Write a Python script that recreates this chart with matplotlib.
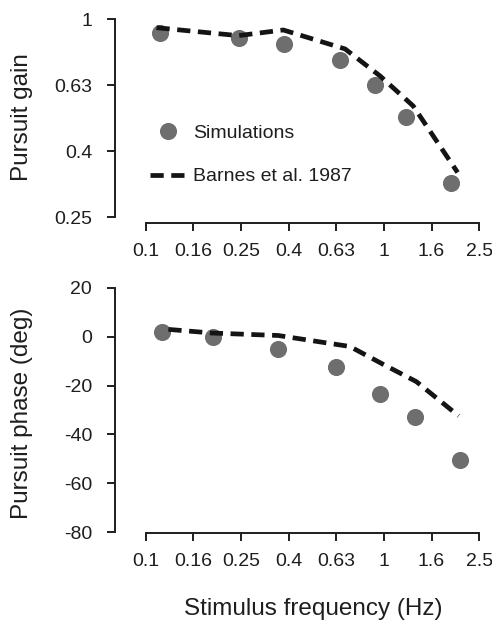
import matplotlib
matplotlib.use("Agg")
import matplotlib.pyplot as plt
from matplotlib.lines import Line2D

plt.rcParams['font.family'] = ['Liberation Sans', 'DejaVu Sans']

# Frequencies (Hz) and responses
sim_gain_freq = [0.115, 0.246, 0.380, 0.656, 0.918, 1.24, 1.91]
sim_gain = [0.907, 0.876, 0.841, 0.752, 0.632, 0.506, 0.319]

barnes_gain_freq = [0.111, 0.245, 0.378, 0.687, 0.964, 1.327, 2.04]
barnes_gain = [0.943, 0.892, 0.928, 0.813, 0.673, 0.546, 0.343]

sim_phase_freq = [0.117, 0.191, 0.36, 0.630, 0.964, 1.356, 2.09]
sim_phase = [1.8, 0.0, -5.0, -12.5, -23.3, -32.7, -50.6]

barnes_phase_freq = [0.1245, 0.19, 0.36, 0.72, 0.98, 1.37, 2.06]
barnes_phase = [3.0, 1.5, 0.5, -4.0, -11.0, -18.4, -32.4]

# Axis ticks (log-spaced at 0.2 decades) and their labels
freq_ticks = [10 ** (-1 + 0.2 * k) for k in range(8)]
freq_labels = ['0.1', '0.16', '0.25', '0.4', '0.63', '1', '1.6', '2.5']
gain_ticks = [10 ** (-0.2 * k) for k in range(4)]
gain_labels = ['1', '0.63', '0.4', '0.25']
phase_ticks = [20, 0, -20, -40, -60, -80]
phase_labels = ['20', '0', '-20', '-40', '-60', '-80']

W, H = 492, 620
fig = plt.figure(figsize=(W / 100, H / 100), dpi=100)

def px_axes(left, right, top, bottom):
    return fig.add_axes([left / W, 1 - bottom / H, (right - left) / W, (bottom - top) / H])

ax1 = px_axes(115, 490, 10, 223)
ax2 = px_axes(115, 490, 280, 533)

text_col = '#1e1e1e'
dot_col = '#6e6e6e'
line_col = '#141414'
tick_fs = 14
label_fs = 17.5

def style(ax):
    for s in ('top', 'right'):
        ax.spines[s].set_visible(False)
    for s in ('left', 'bottom'):
        ax.spines[s].set_linewidth(1.4)
        ax.spines[s].set_color(text_col)
    ax.tick_params(axis='both', direction='out', length=5.5, width=1.4,
                   colors=text_col, labelsize=tick_fs)
    ax.tick_params(axis='x', pad=9)
    ax.tick_params(axis='y', pad=11)
    ax.set_xscale('log')
    ax.set_xlim(0.0743, 2.79)
    ax.set_xticks(freq_ticks)
    ax.set_xticklabels(freq_labels)
    ax.minorticks_off()
    ax.spines['bottom'].set_bounds(freq_ticks[0], freq_ticks[-1])

dash = dict(color=line_col, lw=3.4, dashes=(2.8, 1.6), dash_capstyle='butt', zorder=3)
dot = dict(ls='none', marker='o', ms=11.3, mfc=dot_col, mec=dot_col, zorder=2)

# Gain panel
style(ax1)
ax1.set_yscale('log')
ax1.set_ylim(0.241, 1.067)
ax1.set_yticks(gain_ticks)
ax1.set_yticklabels(gain_labels)
ax1.minorticks_off()
ax1.spines['left'].set_bounds(gain_ticks[-1], gain_ticks[0])
ax1.plot(sim_gain_freq, sim_gain, **dot)
ax1.plot(barnes_gain_freq, barnes_gain, **dash)

handles = [Line2D([], [], **dot), Line2D([], [], **dash)]
leg = ax1.legend(handles, ['Simulations', 'Barnes et al. 1987'], loc='upper left',
                 bbox_to_anchor=((150 - 115) / 375, 1 - (124 - 10) / 213),
                 frameon=False, fontsize=14, handlelength=1.8, handletextpad=0.4,
                 labelspacing=1.35, borderpad=0, borderaxespad=0)
for t in leg.get_texts():
    t.set_color(text_col)

# Phase panel
style(ax2)
ax2.set_ylim(-80.3, 23.2)
ax2.set_yticks(phase_ticks)
ax2.set_yticklabels(phase_labels)
ax2.spines['left'].set_bounds(-80, 20)
ax2.plot(sim_phase_freq, sim_phase, **dot)
ax2.plot(barnes_phase_freq, barnes_phase, **dash)

fig.text(22 / W, 1 - 117.5 / H, 'Pursuit gain', rotation=90, ha='center', va='center',
         fontsize=label_fs, color=text_col)
fig.text(22 / W, 1 - 413 / H, 'Pursuit phase (deg)', rotation=90, ha='center', va='center',
         fontsize=label_fs, color=text_col)
fig.text(313.5 / W, 1 - 609 / H, 'Stimulus frequency (Hz)', ha='center', va='center',
         fontsize=label_fs, color=text_col)

fig.savefig('out.png', dpi=100, facecolor='white')
